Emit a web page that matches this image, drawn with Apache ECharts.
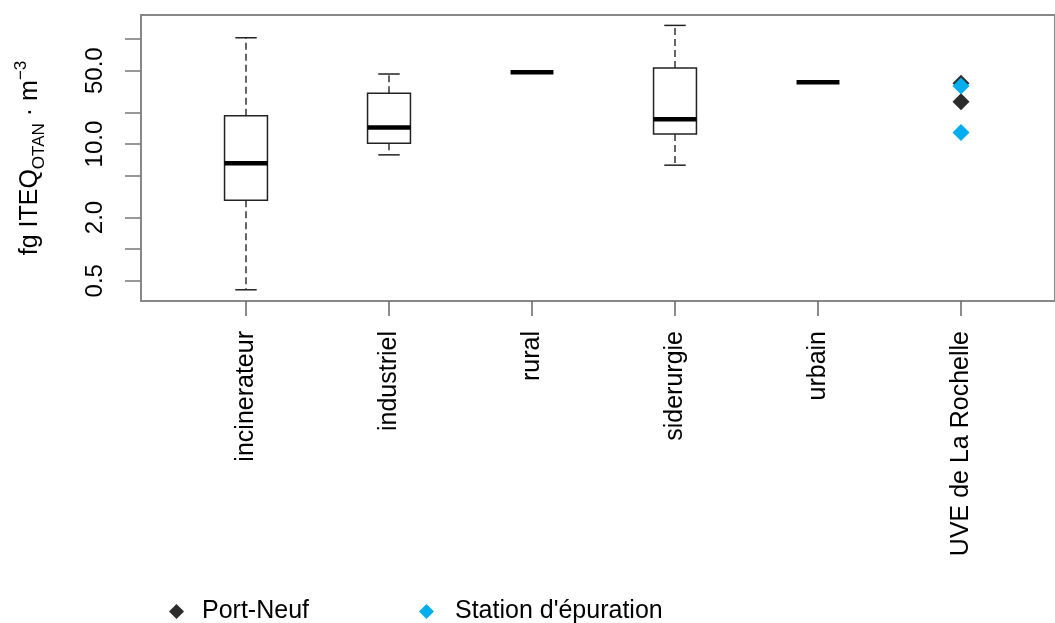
<!DOCTYPE html>
<html>
<head>
<meta charset="utf-8">
<script src="https://cdn.jsdelivr.net/npm/echarts@6/dist/echarts.min.js"></script>
<style>
  html, body { margin: 0; padding: 0; background: #fff; }
  #chart { width: 1055px; height: 623px; }
</style>
</head>
<body>
<div id="chart"></div>
<script>
// categories and box statistics (fg ITEQ/m3)
var categories = ['incinerateur', 'industriel', 'rural', 'siderurgie', 'urbain', 'UVE de La Rochelle'];
var whiskerLow  = [0.41, 7.9, 48.3, 6.3, 38.8];
var quartile1   = [2.92, 10.2, 48.3, 12.5, 38.8];
var medians     = [6.56, 14.4, 48.3, 17.2, 38.8];
var quartile3   = [18.6, 30.5, 48.3, 53.1, 38.8];
var whiskerHigh = [103, 46.5, 48.3, 135, 38.8];

// points for UVE de La Rochelle
var portNeuf = [37.9, 25.3];
var stationEpuration = [35.7, 12.9];

// log axis ticks
var tickValues = [0.5, 1, 2, 5, 10, 20, 50, 100];
var labelValues = [0.5, 2, 10, 50];
var yRange = [0.3206, 169.6];

var lg = Math.log10;
var font = 'Liberation Sans';

var boxData = categories.slice(0, 5).map(function (c, i) {
    return [i, lg(whiskerLow[i]), lg(quartile1[i]), lg(medians[i]), lg(quartile3[i]), lg(whiskerHigh[i])];
});

function renderBox(params, api) {
    var i = api.value(0);
    var lo = api.value(1), q1 = api.value(2), md = api.value(3), q3 = api.value(4), hi = api.value(5);
    var band = api.size([1, 0])[0];
    var hw = band * 0.15, cw = band * 0.075;
    var pLo = api.coord([i, lo]), pQ1 = api.coord([i, q1]), pMd = api.coord([i, md]);
    var pQ3 = api.coord([i, q3]), pHi = api.coord([i, hi]);
    var x = pMd[0];
    var kids = [];
    var dash = { stroke: '#333', lineWidth: 1.5, lineDash: [7, 4] };
    var solid = { stroke: '#222', lineWidth: 1.5 };
    if (hi > q3) {
        kids.push({ type: 'line', shape: { x1: x, y1: pQ3[1], x2: x, y2: pHi[1] }, style: dash });
        kids.push({ type: 'line', shape: { x1: x - cw, y1: pHi[1], x2: x + cw, y2: pHi[1] }, style: solid });
    }
    if (lo < q1) {
        kids.push({ type: 'line', shape: { x1: x, y1: pQ1[1], x2: x, y2: pLo[1] }, style: dash });
        kids.push({ type: 'line', shape: { x1: x - cw, y1: pLo[1], x2: x + cw, y2: pLo[1] }, style: solid });
    }
    if (q3 > q1) {
        kids.push({ type: 'rect', shape: { x: x - hw, y: pQ3[1], width: 2 * hw, height: pQ1[1] - pQ3[1] },
            style: { fill: '#fff', stroke: '#222', lineWidth: 1.5 } });
    }
    kids.push({ type: 'line', shape: { x1: x - hw, y1: pMd[1], x2: x + hw, y2: pMd[1] },
        style: { stroke: '#000', lineWidth: 4.5 } });
    return { type: 'group', children: kids };
}

var chart = echarts.init(document.getElementById('chart'));
var option = {
    animation: false,
    textStyle: { fontFamily: font },
    grid: [
        { left: 141, right: -11, top: 15, bottom: 322, show: true, borderColor: '#888', borderWidth: 2, backgroundColor: 'transparent' },
        { left: 174.5, right: 22.5, top: 15, bottom: 322 }
    ],
    legend: [
        {
            data: ['Port-Neuf'], left: 164, top: 594, itemWidth: 15, itemHeight: 15,
            textStyle: { fontFamily: font, fontSize: 25, color: '#000', padding: [0, 0, 0, 13] }
        },
        {
            data: ["Station d'épuration"], left: 414, top: 594, itemWidth: 15, itemHeight: 15,
            textStyle: { fontFamily: font, fontSize: 25, color: '#000', padding: [0, 0, 0, 16] }
        }
    ],
    xAxis: [
        { gridIndex: 0, type: 'value', show: false, min: 0, max: 1 },
        {
            gridIndex: 1, type: 'category', data: categories, position: 'bottom',
            axisLine: { show: false, onZero: false },
            axisTick: { show: true, alignWithLabel: true, length: 15, lineStyle: { color: '#666', width: 1.5 } },
            axisLabel: { interval: 0, rotate: 90, margin: 30, fontSize: 25, color: '#000', fontFamily: font }
        }
    ],
    yAxis: [
        {
            gridIndex: 0, type: 'value', min: lg(yRange[0]), max: lg(yRange[1]),
            splitLine: { show: false },
            axisLine: { show: false },
            axisTick: { show: true, length: 16, lineStyle: { color: '#777', width: 1.5 },
                customValues: tickValues.map(lg) },
            axisLabel: {
                rotate: 90, margin: 34, fontSize: 24, color: '#000', fontFamily: font,
                customValues: labelValues.map(lg),
                formatter: function (v) { return Math.pow(10, v).toFixed(1); }
            },
            name: '{n|fg ITEQ}{sub|OTAN}{n| · m}{sup|−3}',
            nameLocation: 'middle', nameGap: 93, nameRotate: 90,
            nameTextStyle: {
                color: '#000', fontFamily: font,
                rich: {
                    n: { fontSize: 25, lineHeight: 35, fontFamily: font, color: '#000' },
                    sub: { fontSize: 17, lineHeight: 17, verticalAlign: 'bottom', fontFamily: font, color: '#000' },
                    sup: { fontSize: 17, lineHeight: 17, verticalAlign: 'top', fontFamily: font, color: '#000' }
                }
            }
        },
        { gridIndex: 1, type: 'value', show: false, min: lg(yRange[0]), max: lg(yRange[1]) }
    ],
    series: [
        {
            type: 'custom', xAxisIndex: 1, yAxisIndex: 1,
            renderItem: renderBox, data: boxData,
            encode: { x: 0, y: [1, 2, 3, 4, 5] }
        },
        {
            name: 'Port-Neuf', type: 'scatter', xAxisIndex: 1, yAxisIndex: 1,
            symbol: 'diamond', symbolSize: 17,
            itemStyle: { color: '#2b2b2b', opacity: 1 },
            data: portNeuf.map(function (v) { return [5, lg(v)]; })
        },
        {
            name: "Station d'épuration", type: 'scatter', xAxisIndex: 1, yAxisIndex: 1,
            symbol: 'diamond', symbolSize: 17,
            itemStyle: { color: '#00aeef', opacity: 1 },
            data: stationEpuration.map(function (v) { return [5, lg(v)]; })
        }
    ]
};
chart.setOption(option);
window.onresize = chart.resize;
</script>
</body>
</html>
